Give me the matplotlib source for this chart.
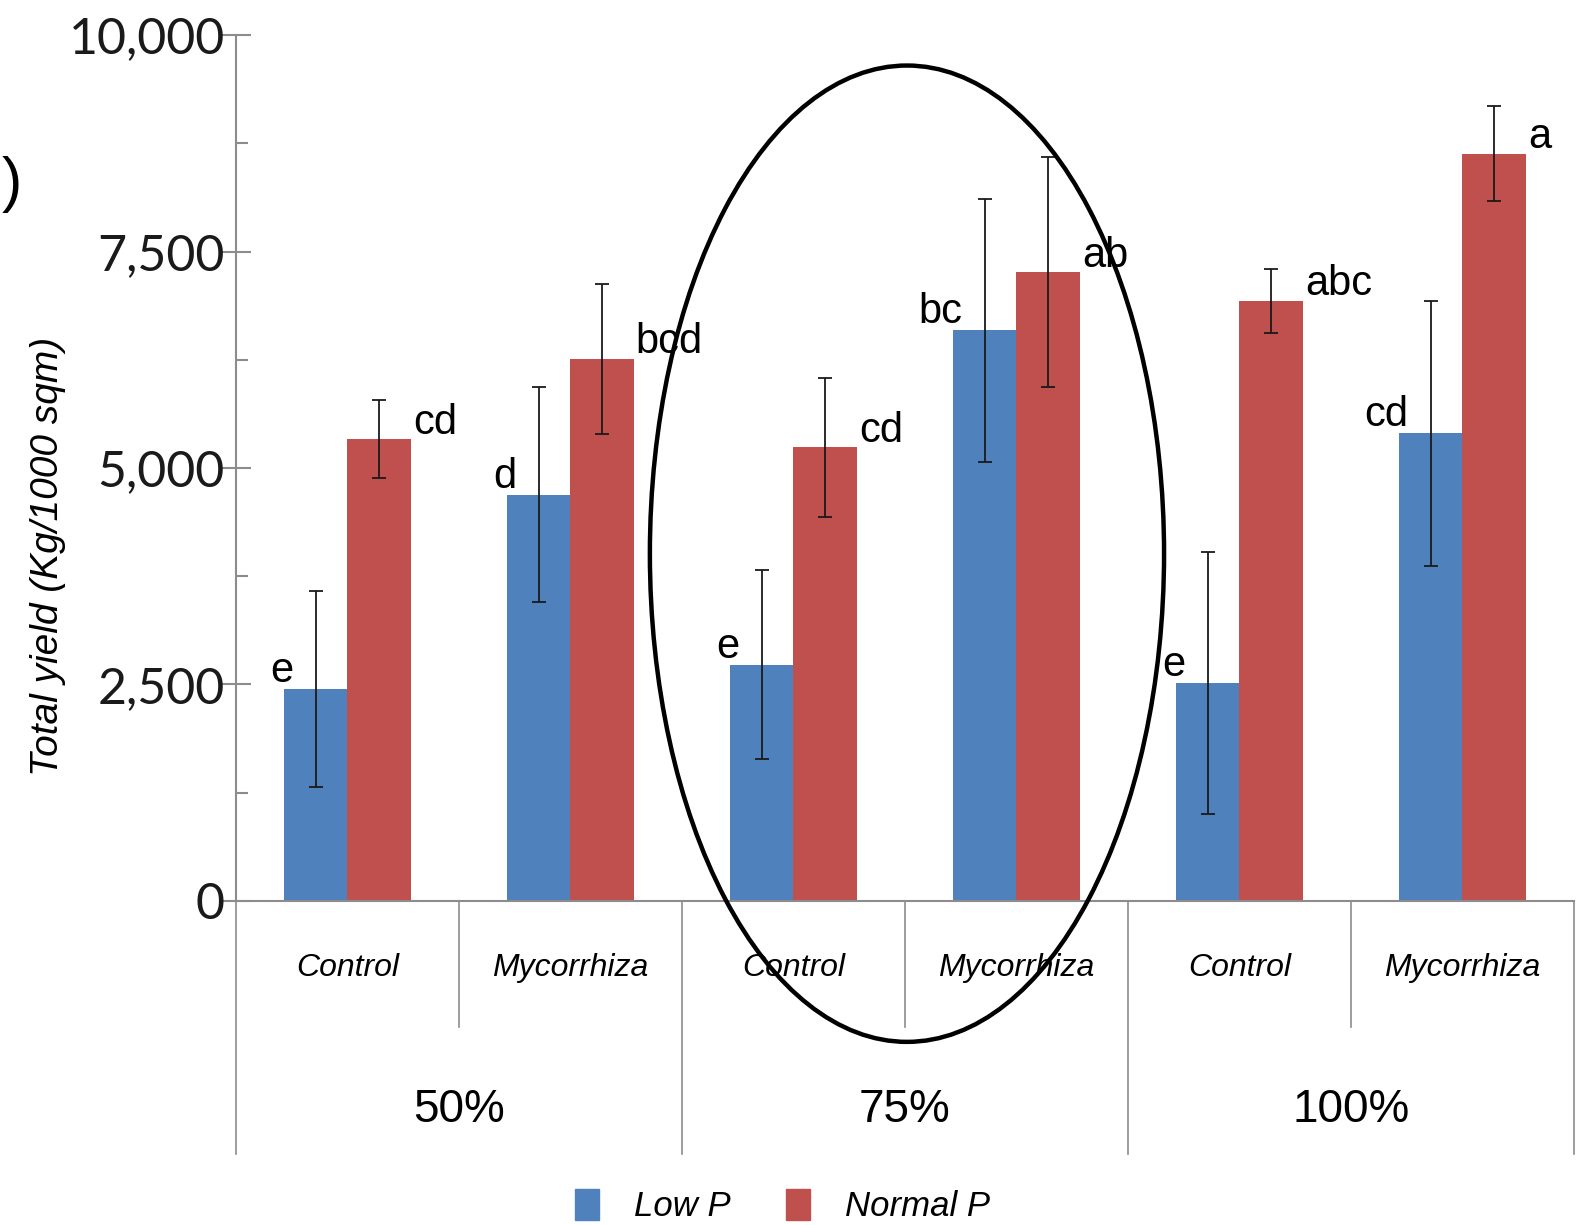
import matplotlib
matplotlib.use("Agg")
import matplotlib.pyplot as plt
import numpy as np
from matplotlib.patches import Patch, Ellipse
from matplotlib.ticker import MultipleLocator, FuncFormatter

# total yield per treatment (Kg/1000 sqm)
doses = ['50%', '75%', '100%']
treatments = ['Control', 'Mycorrhiza', 'Control', 'Mycorrhiza', 'Control', 'Mycorrhiza']
low_p = [2450, 4690, 2730, 6590, 2520, 5400]
low_p_err = [1130, 1240, 1095, 1515, 1510, 1530]
normal_p = [5330, 6260, 5240, 7260, 6930, 8630]
normal_p_err = [450, 870, 800, 1330, 370, 545]
low_p_letters = ['e', 'd', 'e', 'bc', 'e', 'cd']
normal_p_letters = ['cd', 'bcd', 'cd', 'ab', 'abc', 'a']

blue = '#4F81BD'
red = '#C0504D'
grey = '#8C8C8C'
arial = ['Liberation Sans', 'DejaVu Sans']

fig = plt.figure(figsize=(15.87, 12.25), dpi=100)
ax = fig.add_axes([0.1487, 0.2645, 0.8431, 0.7069])

x = np.arange(len(treatments)) + 0.5
w = 0.283
ax.bar(x - w / 2, low_p, w, color=blue, zorder=2)
ax.bar(x + w / 2, normal_p, w, color=red, zorder=2)
ax.errorbar(x - w / 2, low_p, yerr=low_p_err, fmt='none', ecolor='#1a1a1a',
            elinewidth=1.3, capsize=5, capthick=1.3, zorder=3)
ax.errorbar(x + w / 2, normal_p, yerr=normal_p_err, fmt='none', ecolor='#1a1a1a',
            elinewidth=1.3, capsize=5, capthick=1.3, zorder=3)

# significance letters
for i in range(len(treatments)):
    ax.annotate(low_p_letters[i], (x[i] - w + 0.04, low_p[i]), xytext=(0, 5),
                textcoords='offset points', ha='right', va='baseline',
                fontsize=30, family=arial)
    ax.annotate(normal_p_letters[i], (x[i] + w + 0.01, normal_p[i]), xytext=(0, 4),
                textcoords='offset points', ha='left', va='baseline',
                fontsize=30, family=arial)

ax.set_xlim(0, 6)
ax.set_ylim(0, 10000)
ax.yaxis.set_major_locator(MultipleLocator(2500))
ax.yaxis.set_minor_locator(MultipleLocator(1250))
ax.yaxis.set_major_formatter(FuncFormatter(lambda v, p: f'{int(v):,}'))
ax.tick_params(axis='y', which='major', direction='inout', length=22, width=1.5,
               color=grey, pad=-3, labelsize=36, labelcolor='#1a1a1a')
ax.tick_params(axis='y', which='minor', direction='in', length=8.5, width=1.5, color=grey)
for lab in ax.get_yticklabels():
    lab.set_family(['Lato', 'DejaVu Sans'])
ax.set_xticks([])

for s in ['top', 'right']:
    ax.spines[s].set_visible(False)
for s in ['left', 'bottom']:
    ax.spines[s].set_color(grey)
    ax.spines[s].set_linewidth(1.5)

ax.set_ylabel('Total yield (Kg/1000 sqm)', fontsize=28, style='italic',
              family=arial, labelpad=0)
ax.yaxis.set_label_coords(-0.127, 0.398)

# two-level category axis
tr = ax.get_xaxis_transform()
for b in range(7):
    depth = -0.292 if b % 2 == 0 else -0.1455
    ax.plot([b, b], [0, depth], transform=tr, color=grey, lw=1.2, clip_on=False)
for i, t in enumerate(treatments):
    ax.text(x[i], -0.0774, t, transform=tr, ha='center', va='center',
            fontsize=23, style='italic', family=arial)
for j, d in enumerate(doses):
    ax.text(2 * j + 1, -0.2413, d, transform=tr, ha='center', va='center',
            fontsize=33, family=arial)

handles = [Patch(color=blue, label='Low P'), Patch(color=red, label='Normal P')]
leg = fig.legend(handles=handles, loc='center', bbox_to_anchor=(0.493, 0.0155), ncol=2,
                 frameon=False, handlelength=0.7, handleheight=1.0, handletextpad=1.0,
                 columnspacing=1.6, prop={'family': arial, 'size': 25, 'style': 'italic'})

# highlight around the 75% group
fig.patches.append(Ellipse((0.5715, 0.548), 0.324, 0.797, transform=fig.transFigure,
                           fill=False, edgecolor='black', lw=3.2))

fig.text(0.0139, 0.849, ')', ha='right', va='center', fontsize=44, family=arial)

fig.savefig('out.png', dpi=100)
